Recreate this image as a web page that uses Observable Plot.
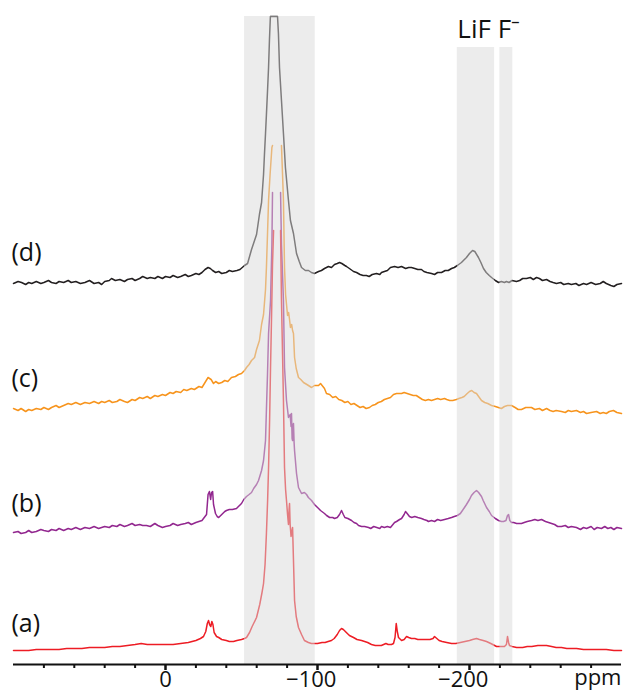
<!DOCTYPE html>
<html>
<head>
<meta charset="utf-8">
<script src="https://cdn.jsdelivr.net/npm/d3@7"></script>
<script src="https://cdn.jsdelivr.net/npm/@observablehq/plot@0.6"></script>
<style>
  html, body { margin: 0; padding: 0; background: #fff; }
  #chart svg { display: block; overflow: visible; }
</style>
</head>
<body>
<div id="chart"></div>
<script>
// ---- data (chemical shift in ppm, intensity in arbitrary units) ----
const ppmD = [100,97,94.7,92,90,88,85,82,80,77,75,72,70,67,64,62,59,56,53,50,47,44,42,40,37,35.5,33,30,27,25,22,20,17,15,12,10,7,5,2,0,-3,-5,-8,-10,-13,-15,-17,-20,-22,-24,-26,-28,-29.5,-31,-33,-35,-37,-40,-42,-44,-47,-49,-52,-54,-56.6,-59.9,-61.8,-63.2,-64.5,-65.1,-65.8,-66.4,-67.1,-67.8,-68.4,-69,-73.7,-74.3,-75,-76.3,-77.6,-78.9,-80.9,-82.2,-84.2,-86.2,-88,-89.5,-92,-94.1,-96,-98,-100.7,-102.6,-104.6,-107.2,-109.2,-111.2,-113,-114.5,-116,-118,-119.1,-121,-123.7,-125.7,-128,-130,-132.2,-134,-136,-138.8,-141,-142.1,-144,-146,-148,-150.7,-153,-155.3,-158,-160,-161.8,-164,-166,-168.4,-170,-172,-175,-177,-179,-181.6,-184,-186,-188.2,-190,-192,-194.7,-196,-198,-200,-202,-203.5,-205.9,-207.5,-209.2,-211,-213,-214.5,-217,-219.1,-221,-223,-224.3,-226,-228,-230.9,-233,-235,-237.5,-240,-242,-244.1,-246,-248,-250.7,-253,-255,-257.2,-260,-262,-265,-267,-270,-272,-275,-277,-280,-283,-286,-288,-290,-293,-295,-297,-300];
const intD = [381,383,382,380,382,381,383,381,382,384,382,381,383,382,384,382,383,381,382,384,381,382,380,383,384,386,384,385,383,385,386,384,386,388,386,387,386,388,386,388,387,389,387,388,390,388,389,391,390,392,395,397,396,394,392,393,391,392,394,393,394,395,399,401,415,430,450,462,490,510,531,550,573,597,625,648,648,631,597,564,531,497,464,444,431,411,403,397,394,394,392,391,393,394,396,398,397,400,401,402,401,399,398,396,393,392,390,389,389,388,390,391,390,392,393,394,397,398,397,398,396,397,397,396,395,395,393,392,391,390,392,392,394,394,396,397,399,402,404,407,411,414,413,407,402,396,392,389,387,384,382,383,382,383,382,384,383,384,386,386,387,385,387,386,384,385,383,382,381,382,380,381,380,381,379,381,380,382,380,381,383,381,379,378,380,381];

const ppmC = [100,97,95,92,90,88,85,82,80,77,75,72,70,67,64,62,59,56,53,50,47,44,42,40,37,35,32,30,27,25,22,20,17,15,12,10,7,5,2,0,-3,-5,-7,-10,-12,-14,-17,-19,-22,-24,-26,-28,-30,-31.6,-33,-35,-37,-39,-41,-43.4,-46,-48,-50,-52,-53.3,-55,-56.6,-58.6,-59.9,-61.8,-63.2,-64.5,-65.8,-66.4,-67.1,-67.8,-68.8,-70,-70.4,-73,-76.3,-77,-77.6,-78.3,-79,-80.3,-81,-81.6,-82.2,-83,-83.6,-84.2,-84.9,-86,-87.5,-89,-90.8,-93,-96.1,-98,-100.7,-102,-104.6,-105.9,-108,-110,-112,-114,-116,-118,-120,-122,-124,-126,-128,-130,-132,-134.2,-136,-138,-140,-142,-144,-146,-148,-150,-152,-155.3,-157,-159,-161,-163,-165,-167,-169,-171,-173,-175,-177,-179,-181,-183.6,-185,-187,-189,-191.4,-193,-195,-196.5,-198.5,-200,-201.5,-203,-204.6,-206,-207.9,-210,-212,-214.5,-217,-219,-221,-223,-225,-227.6,-230,-232,-234.2,-237,-240.8,-243,-246,-248,-250.7,-253,-255,-257,-260.5,-263,-265,-267,-270.4,-273,-275,-277,-280,-283.6,-286,-288,-290,-292,-294.7,-297,-300];
const intC = [256,254,256,253,255,254,256,255,257,255,257,259,257,259,261,260,262,260,262,261,263,261,263,262,264,262,263,265,263,262,265,264,267,266,268,266,269,268,270,269,272,271,273,272,275,274,276,275,278,277,282,287,285,281,283,281,282,284,283,287,288,290,291,294,297,300,304,307,315,324,340,350,375,397,430,464,490,517,519,null,519,490,464,397,370,349,352,345,337,340,334,331,307,296,287,285,282,280,277,279,279,281,276,271,270,267,268,265,264,262,263,260,261,259,257,258,256,257,259,260,262,263,265,266,267,270,271,271,272,271,270,269,269,267,265,264,265,264,265,266,265,266,265,264,264,265,266,267,268,271,273,274,272,271,268,264,262,261,259,258,257,256,258,259,259,257,255,255,257,257,255,256,254,256,254,253,254,253,252,254,253,254,252,253,251,252,253,251,252,251,253,254,252,251];

const ppmB = [100,97,95,92,90,88,85,82,80,77,75,72,70,67,64,62,59,56,53,50,47,44,42,40,37,35,32,30,27,25,22,20,17,15,12.5,10,7,5,2,0,-3,-5,-8,-10,-13,-15,-17,-20,-22,-24,-25.5,-27,-28,-28.9,-29.7,-30.3,-31,-31.6,-32.9,-34,-35,-37,-39,-40.1,-42,-44,-46.7,-48,-50,-51.5,-53.3,-55,-56.6,-58,-59.9,-61.2,-63.2,-64.5,-65.8,-66.4,-67.1,-67.8,-69.1,-70,-70.4,-73,-75.7,-76.3,-77.6,-78.3,-79.6,-80.9,-82,-82.6,-82.9,-83.3,-83.6,-84,-84.2,-84.6,-84.9,-86.2,-87.5,-89.5,-91.4,-92.8,-94,-96.1,-98,-100.7,-102,-104.6,-106,-108,-110,-111.2,-113,-114.5,-115.8,-117,-118,-120,-122.4,-124,-125.7,-127,-129,-131,-133.6,-135,-137,-139,-141,-142.1,-144,-146,-148,-150.7,-152,-154,-155.3,-157,-157.9,-159,-160.5,-162,-164,-166,-168.4,-170,-172,-173,-175,-177,-179,-181,-183.6,-186,-188.2,-190,-192,-194,-196.7,-198,-200,-201.3,-203,-204.6,-206,-207.9,-209,-211.2,-213,-214.5,-217,-219.1,-221,-222.4,-224,-225,-225.7,-226.5,-227.6,-229,-231,-234.2,-236,-238,-240.8,-243,-245,-247.4,-250,-252,-254,-256,-258,-260.5,-263,-265,-267,-270.4,-273,-275,-277,-280,-282,-284,-286.8,-289,-291,-293,-295,-297,-300];
const intB = [132,133,131,132,134,132,133,135,134,133,135,134,136,134,136,135,137,135,137,136,138,136,137,138,137,139,138,140,138,139,141,139,140,139,139,138,141,139,137,138,139,141,139,140,141,142,140,142,143,144,147,150,170,173,165,172,173,160,151,148,147,150,153,154,155,155,156,158,161,165,168,170,172,176,180,184,194,204,224,255,290,331,364,420,472,null,472,420,364,297,264,247,250,238,251,226,224,240,241,222,214,191,177,171,172,170,167,164,160,156,154,151,149,147,147,146,147,150,154,150,147,146,144,142,141,139,138,138,137,136,138,137,136,138,137,138,137,142,143,145,146,150,153,151,148,147,148,147,146,145,144,143,144,143,145,144,145,146,147,148,149,151,157,160,165,169,172,174,172,168,164,157,153,149,146,144,143,143,144,149,150,144,142,142,141,141,142,143,144,145,144,145,143,142,141,140,138,138,139,137,138,137,135,137,136,138,135,137,136,138,136,137,135,137,136];

const ppmA = [100,95,90,85,80,75,70,65,60,55,50,45,40,35,30,25,20,16,12,8,4,0,-5,-10,-15,-20,-23,-25,-26.5,-27.5,-28.3,-29,-29.8,-30.5,-31.2,-32,-33.6,-35,-37,-40,-42,-44.7,-47,-50,-52,-53.3,-55.3,-57,-59.9,-62,-63.5,-64.5,-65.5,-66.4,-67.2,-67.8,-68.5,-69.1,-69.8,-70.4,-71.1,-73,-75.7,-76.3,-77,-77.6,-78.3,-79,-79.6,-80.3,-80.9,-81.3,-81.6,-82,-82.6,-83,-83.6,-84,-84.2,-84.9,-86,-87.5,-89.5,-91.4,-94,-96,-98,-100,-103,-105,-107,-109.2,-111,-113,-114.5,-115.8,-117,-119,-121,-123.7,-126,-129,-131,-133,-135.5,-138,-140,-142,-143.5,-145,-146.5,-148.7,-150,-151,-151.8,-152.5,-153.3,-155.3,-157,-158.6,-160,-161.8,-164,-166,-168.4,-171,-174,-176,-177,-178.5,-180,-182,-185,-188.2,-191,-194,-197,-200,-202,-204.6,-206.6,-209,-211.2,-214,-217.8,-220,-223,-224.3,-225,-225.7,-226.3,-228,-231,-235,-238,-241,-245,-248,-250.7,-254,-257,-260.5,-264,-267,-270.4,-275,-280,-285,-290,-295,-300];
const intA = [14,14,14,15,15,15,15,16,16,16,17,17,17,18,18,19,20,21,20,20,20,20,20,21,22,24,26,28,33,41,44,40,38,43,40,32,28,27,25,24,23,23,24,25,26,27,32,38,47,60,72,81,100,131,165,197,245,297,350,400,434,null,434,364,310,264,197,175,164,150,140,155,161,140,128,132,137,115,104,64,48,37,30,24,22,21,21,21,22,22,23,24,26,30,34,36,35,32,29,27,25,24,23,22,20,19,19,19,20,21,20,20,21,27,41,33,27,24,25,28,27,26,26,25,25,25,25,26,28,26,24,23,22,21,21,22,23,24,25,26,25,24,23,21,18,18,18,20,28,22,19,18,17,17,18,18,19,19,19,18,17,17,16,16,16,15,15,15,15,14,14];

const traceNames  = ["(d)", "(c)", "(b)", "(a)"];
const traceColors = ["#231f20", "#f7941d", "#92278f", "#ed1c24"];
const labelLevels = [412, 286, 161, 41];

const bandNames = ["main", "LiF", "F-"];
const bandFrom  = [-52, -192, -220];
const bandTo    = [-98.5, -216.5, -228.5];
const bandTop   = [648, 617, 617];

const minorTicks = [80,60,40,20,-20,-40,-60,-80,-120,-140,-160,-180,-220,-240,-260,-280];
const majorTicks = [0, -100, -200];

// ---- build tables ----
const traces = [[ppmD, intD], [ppmC, intC], [ppmB, intB], [ppmA, intA]].map(([p, v], k) =>
  p.map((ppm, i) => ({ppm, v: v[i], name: traceNames[k]})));
const bands = bandNames.map((name, i) => ({name, x1: bandFrom[i], x2: bandTo[i], top: bandTop[i]}));

const chart = Plot.plot({
  width: 623,
  height: 695,
  marginLeft: 13,
  marginRight: 2,
  marginTop: 16,
  marginBottom: 31,
  x: {domain: [100, -300], label: null},
  y: {domain: [0, 648], axis: null},
  style: {fontFamily: "'Open Sans', sans-serif", fontSize: "22px", color: "#111", background: "#fff"},
  marks: [
    ...traces.map((rows, k) => Plot.line(rows, {
      x: "ppm", y: "v", stroke: traceColors[k], strokeWidth: 1.5, strokeLinejoin: "round"
    })),
    Plot.rectY(bands, {x1: "x1", x2: "x2", y1: 0, y2: "top", fill: "#d9d9d9", fillOpacity: 0.5}),
    Plot.ruleY([0], {stroke: "#111", strokeWidth: 2}),
    Plot.axisX(minorTicks, {tickSize: 4, strokeWidth: 2, tickFormat: () => "", stroke: "#111"}),
    Plot.axisX(majorTicks, {
      tickSize: 6, strokeWidth: 2.5, tickPadding: 1, fontSize: 22, stroke: "#111",
      tickFormat: d => d < 0 ? "\u2212" + (-d) + "\u2007" : String(d)
    }),
    Plot.text(["ppm"], {frameAnchor: "bottom-right", textAnchor: "end", lineAnchor: "top", dy: 5, fontSize: 22, fill: "#111"}),
    Plot.text(traceNames, {frameAnchor: "left", y: (d, i) => labelLevels[i], textAnchor: "start", fontSize: 25, dx: -2, fill: "#111"}),
    Plot.text(["LiF F\u207B"], {x: bandFrom[1], y: 635, textAnchor: "start", fontSize: 26, dx: 0, fill: "#111"})
  ]
});
document.getElementById("chart").appendChild(chart);
</script>
</body>
</html>
